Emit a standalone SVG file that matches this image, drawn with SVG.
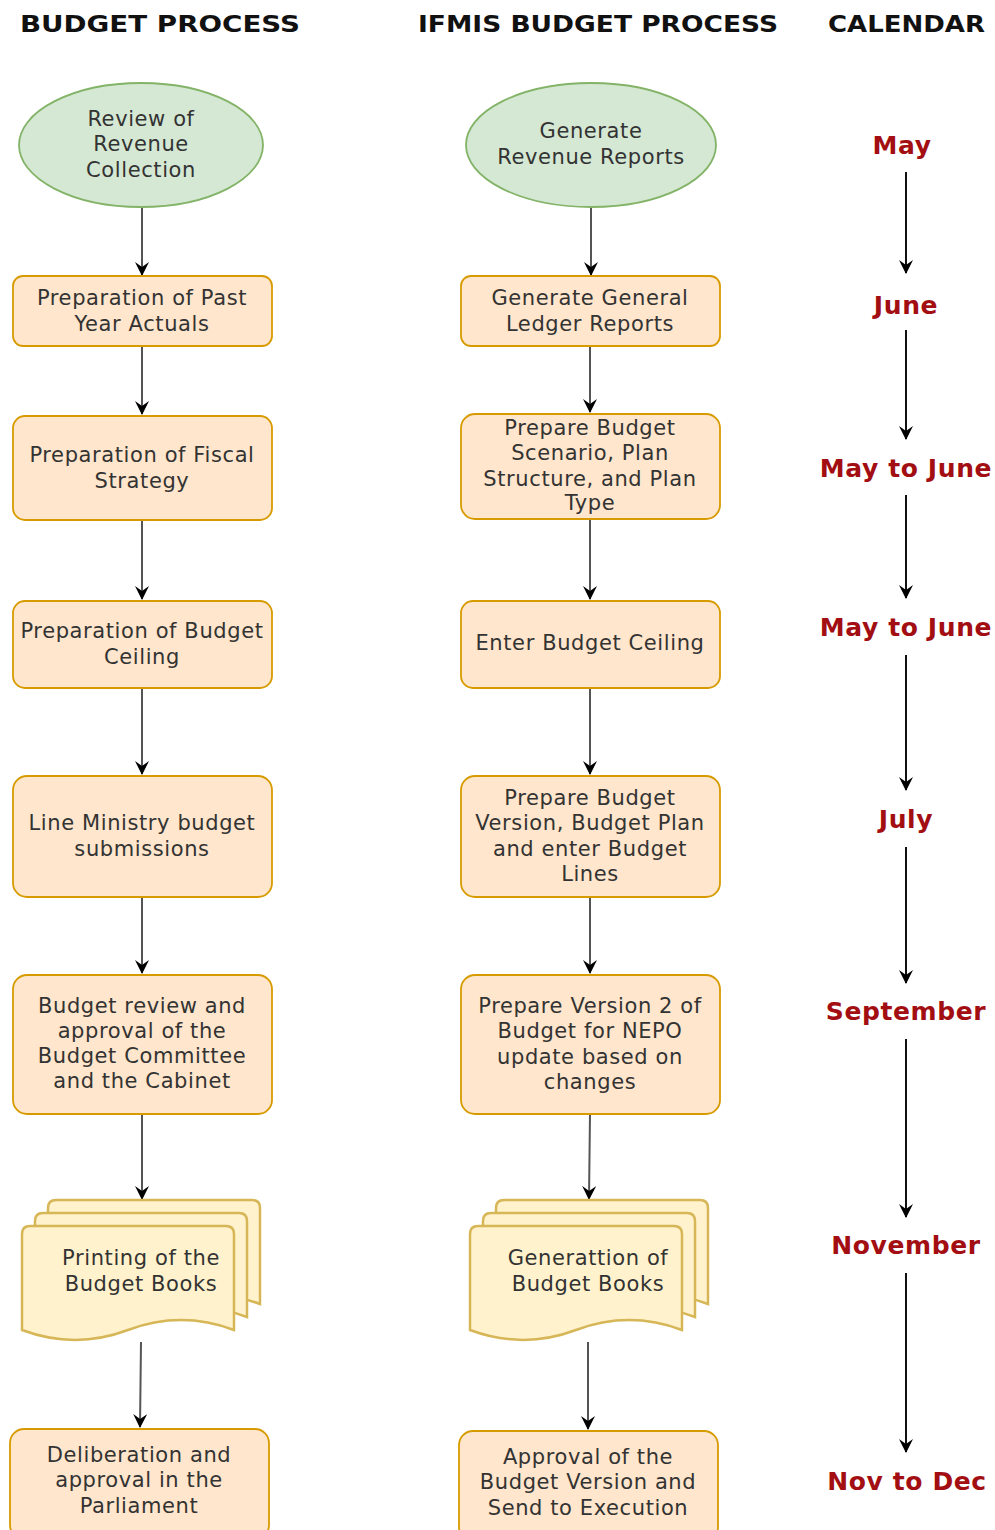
<svg xmlns="http://www.w3.org/2000/svg" width="995" height="1530" viewBox="0 0 995 1530">
<style>
.hdr{font-family:"DejaVu Sans",Verdana,sans-serif;font-weight:bold;font-size:23px;fill:#111}
.t{font-family:"DejaVu Sans",Verdana,sans-serif;font-size:21px;letter-spacing:0.6px;fill:#333;text-anchor:middle}
.cal{font-family:"DejaVu Sans",Verdana,sans-serif;font-weight:bold;font-size:25px;letter-spacing:0.6px;fill:#a20e12;text-anchor:middle}
.box{fill:#ffe6cc;stroke:#d79b00;stroke-width:1.8}
.ell{fill:#d5e8d4;stroke:#82b366;stroke-width:1.8}
.doc{fill:#fff2cc;stroke:#d6b656;stroke-width:2.5}
.edge{fill:none;stroke:#555;stroke-width:2;marker-end:url(#arr)}
.cedge{fill:none;stroke:#111;stroke-width:2;marker-end:url(#arr)}
</style>
<defs>
<marker id="arr" viewBox="0 0 14 14" refX="13" refY="7" markerWidth="14" markerHeight="14" markerUnits="userSpaceOnUse" orient="auto">
<path d="M0,0 L14,7 L0,14 L5,7 Z" fill="#000"/>
</marker>
<path id="page" d="M0,8 Q0,0 8,0 L204,0 Q212,0 212,8 L212,104 Q159,84.2 106,104 Q53,123.8 0,104 Z"/>
</defs>
<rect width="995" height="1530" fill="#fff"/>

<g id="headers">
<text class="hdr" x="20" y="32" textLength="280" lengthAdjust="spacingAndGlyphs">BUDGET PROCESS</text>
<text class="hdr" x="418" y="32" textLength="360" lengthAdjust="spacingAndGlyphs">IFMIS BUDGET PROCESS</text>
<text class="hdr" x="828" y="32" textLength="157" lengthAdjust="spacingAndGlyphs">CALENDAR</text>
</g>

<g id="connectors">
<path class="edge" d="M142,207 L142,275"/>
<path class="edge" d="M142,346 L142,414"/>
<path class="edge" d="M142,520 L142,599"/>
<path class="edge" d="M142,688 L142,774"/>
<path class="edge" d="M142,897 L142,973"/>
<path class="edge" d="M142,1114 L142,1199"/>
<path class="edge" d="M141,1342 L140,1427"/>
<path class="edge" d="M591,207 L591,275"/>
<path class="edge" d="M590,346 L590,412"/>
<path class="edge" d="M590,519 L590,599"/>
<path class="edge" d="M590,688 L590,774"/>
<path class="edge" d="M590,897 L590,973"/>
<path class="edge" d="M590,1114 L589,1199"/>
<path class="edge" d="M588,1342 L588,1429"/>
<path class="cedge" d="M906,172 L906,273"/>
<path class="cedge" d="M906,330 L906,439"/>
<path class="cedge" d="M906,495 L906,598"/>
<path class="cedge" d="M906,655 L906,790"/>
<path class="cedge" d="M906,847 L906,983"/>
<path class="cedge" d="M906,1039 L906,1217"/>
<path class="cedge" d="M906,1273 L906,1452"/>
</g>

<g id="n-review">
<ellipse class="ell" cx="141" cy="145" rx="122" ry="62"/>
<text class="t" x="141" y="126">Review of</text>
<text class="t" x="141" y="151">Revenue</text>
<text class="t" x="141" y="177">Collection</text>
</g>
<g id="n-past">
<rect class="box" x="13" y="276" width="259" height="70" rx="10"/>
<text class="t" x="142" y="305">Preparation of Past</text>
<text class="t" x="142" y="331">Year Actuals</text>
</g>
<g id="n-fiscal">
<rect class="box" x="13" y="416" width="259" height="104" rx="12"/>
<text class="t" x="142" y="462">Preparation of Fiscal</text>
<text class="t" x="142" y="488">Strategy</text>
</g>
<g id="n-ceiling">
<rect class="box" x="13" y="601" width="259" height="87" rx="12"/>
<text class="t" x="142" y="638">Preparation of Budget</text>
<text class="t" x="142" y="664">Ceiling</text>
</g>
<g id="n-line">
<rect class="box" x="13" y="776" width="259" height="121" rx="14"/>
<text class="t" x="142" y="830">Line Ministry budget</text>
<text class="t" x="142" y="856">submissions</text>
</g>
<g id="n-review2">
<rect class="box" x="13" y="975" width="259" height="139" rx="14"/>
<text class="t" x="142" y="1013">Budget review and</text>
<text class="t" x="142" y="1038">approval of the</text>
<text class="t" x="142" y="1063">Budget Committee</text>
<text class="t" x="142" y="1088">and the Cabinet</text>
</g>
<g id="n-printing">
<use href="#page" class="doc" x="48" y="1200"/>
<use href="#page" class="doc" x="35" y="1213"/>
<use href="#page" class="doc" x="22" y="1226"/>
<text class="t" x="141" y="1265">Printing of the</text>
<text class="t" x="141" y="1291">Budget Books</text>
</g>
<g id="n-parliament">
<rect class="box" x="10" y="1429" width="259" height="110" rx="14"/>
<text class="t" x="139" y="1462">Deliberation and</text>
<text class="t" x="139" y="1487">approval in the</text>
<text class="t" x="139" y="1513">Parliament</text>
</g>

<g id="m-generate">
<ellipse class="ell" cx="591" cy="145" rx="125" ry="62"/>
<text class="t" x="591" y="138">Generate</text>
<text class="t" x="591" y="164">Revenue Reports</text>
</g>
<g id="m-ledger">
<rect class="box" x="461" y="276" width="259" height="70" rx="10"/>
<text class="t" x="590" y="305">Generate General</text>
<text class="t" x="590" y="331">Ledger Reports</text>
</g>
<g id="m-scenario">
<rect class="box" x="461" y="414" width="259" height="105" rx="14"/>
<text class="t" x="590" y="435">Prepare Budget</text>
<text class="t" x="590" y="460">Scenario, Plan</text>
<text class="t" x="590" y="486">Structure, and Plan</text>
<text class="t" x="590" y="510">Type</text>
</g>
<g id="m-ceiling">
<rect class="box" x="461" y="601" width="259" height="87" rx="12"/>
<text class="t" x="590" y="650">Enter Budget Ceiling</text>
</g>
<g id="m-version">
<rect class="box" x="461" y="776" width="259" height="121" rx="14"/>
<text class="t" x="590" y="805">Prepare Budget</text>
<text class="t" x="590" y="830">Version, Budget Plan</text>
<text class="t" x="590" y="856">and enter Budget</text>
<text class="t" x="590" y="881">Lines</text>
</g>
<g id="m-version2">
<rect class="box" x="461" y="975" width="259" height="139" rx="14"/>
<text class="t" x="590" y="1013">Prepare Version 2 of</text>
<text class="t" x="590" y="1038">Budget for NEPO</text>
<text class="t" x="590" y="1064">update based on</text>
<text class="t" x="590" y="1089">changes</text>
</g>
<g id="m-books">
<use href="#page" class="doc" x="496" y="1200"/>
<use href="#page" class="doc" x="483" y="1213"/>
<use href="#page" class="doc" x="470" y="1226"/>
<text class="t" x="588" y="1265">Generattion of</text>
<text class="t" x="588" y="1291">Budget Books</text>
</g>
<g id="m-approval">
<rect class="box" x="459" y="1431" width="259" height="110" rx="14"/>
<text class="t" x="588" y="1464">Approval of the</text>
<text class="t" x="588" y="1489">Budget Version and</text>
<text class="t" x="588" y="1515">Send to Execution</text>
</g>

<g id="calendar">
<text class="cal" x="902" y="154">May</text>
<text class="cal" x="906" y="314">June</text>
<text class="cal" x="906" y="477">May to June</text>
<text class="cal" x="906" y="636">May to June</text>
<text class="cal" x="906" y="828">July</text>
<text class="cal" x="906" y="1020">September</text>
<text class="cal" x="906" y="1254">November</text>
<text class="cal" x="907" y="1490">Nov to Dec</text>
</g>
</svg>
